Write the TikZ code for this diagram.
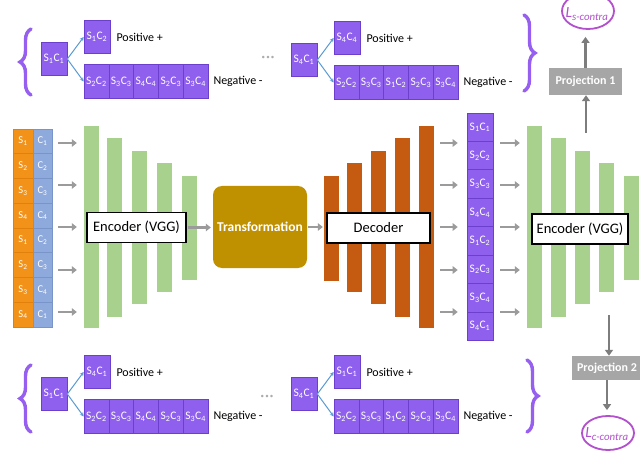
\documentclass[tikz,border=0pt]{standalone}
\usepackage{fontspec}
\setmainfont{Carlito}
\usetikzlibrary{arrows.meta,decorations.pathreplacing,shapes.geometric}

\definecolor{scfill}{RGB}{143,96,238}
\definecolor{scedge}{RGB}{108,64,205}
\definecolor{sorange}{RGB}{242,146,24}
\definecolor{sorangeedge}{RGB}{225,128,10}
\definecolor{cblue}{RGB}{142,169,219}
\definecolor{cblueedge}{RGB}{120,148,200}
\definecolor{encgreen}{RGB}{169,209,142}
\definecolor{decred}{RGB}{197,90,17}
\definecolor{transgold}{RGB}{191,144,0}
\definecolor{arrgray}{RGB}{155,155,155}
\definecolor{projarr}{RGB}{125,125,125}
\definecolor{projgray}{RGB}{166,166,166}
\definecolor{bracepurple}{RGB}{150,95,240}
\definecolor{losspurple}{RGB}{178,80,205}
\definecolor{linkblue}{RGB}{91,155,213}

% S_iC_j label
\newcommand\sct[2]{S\textsubscript{#1}C\textsubscript{#2}}

% anchor sample with one positive and five negatives
\newcommand\contrastgroup[6]{%
  \node[scbox] (#1-a) at (#2,#3) {#4};
  \node[scbox] (#1-p) at ([shift={(43,-22)}]#1-a.center) {#5};
  \foreach \lbl [count=\k] in {#6} {
    \node[scbox, minimum width=24.8pt] (#1-n\k) at ([shift={({42.4+24.8*(\k-1)},22.5)}]#1-a.center) {\lbl};
  }
  \node[plabel, anchor=west] (#1-pt) at ([xshift=6pt]#1-p.east) {Positive +};
  \node[plabel, anchor=west] (#1-nt) at ([xshift=5pt]#1-n5.east) {Negative -};
  \draw[link] (#1-a.east) -- (#1-p.west);
  \draw[link] (#1-a.east) -- (#1-n1.west);
}

\begin{document}
\begin{tikzpicture}[x=1pt,y=-1pt,
  scbox/.style={draw=scedge, fill=scfill, line width=0.6pt, minimum width=26pt,
    minimum height=33.5pt, inner sep=0pt, text=white, font=\fontsize{11.5}{12}\selectfont},
  sbox/.style={draw=sorangeedge, fill=sorange, line width=0.5pt, minimum width=19.5pt,
    minimum height=24.75pt, inner sep=0pt, text=white, font=\fontsize{10.5}{11}\selectfont},
  cbox/.style={sbox, draw=cblueedge, fill=cblue},
  pbox/.style={scbox, minimum height=28.4pt},
  plabel/.style={inner sep=0pt, font=\fontsize{12}{12}\selectfont},
  link/.style={draw=linkblue, line width=1pt, -{Stealth[length=4pt,width=4pt]}},
  garrow/.style={draw=arrgray, line width=2.8pt, -{Triangle[length=5pt,width=7.5pt]}},
  parrow/.style={draw=projarr, line width=2.4pt, -{Triangle[length=6pt,width=8pt]}},
  gbar/.style={fill=encgreen, inner sep=0pt, minimum width=15pt},
  dbar/.style={fill=decred, inner sep=0pt, minimum width=15pt},
  netlabel/.style={draw=black, line width=1.8pt, fill=white, inner sep=0pt,
    minimum height=30pt, font=\fontsize{14.5}{15}\selectfont},
  transbox/.style={fill=transgold, rounded corners=9pt, minimum width=94pt,
    minimum height=82pt, inner sep=0pt, text=white, font=\bfseries\fontsize{13.5}{14}\selectfont},
  projbox/.style={fill=projgray, inner sep=0pt, text=white, font=\bfseries\fontsize{12}{12}\selectfont},
  lossell/.style={ellipse, draw=losspurple, line width=1.8pt, fill=white, inner sep=0pt},
  losstext/.style={inner sep=0pt, text=losspurple, font=\itshape\fontsize{15.5}{16}\selectfont},
  bracestyle/.style={draw=bracepurple, line width=3.4pt, line cap=round,
    decorate, decoration={brace, amplitude=11pt, aspect=0.5}},
  dots/.style={inner sep=0pt, text=gray!65, font=\fontsize{7}{7}\selectfont}
]
\clip (0,0) rectangle (640,457);
\fill[white] (0,0) rectangle (640,457);

% ---------- contrastive sample groups ----------
\contrastgroup{tl}{54}{59}{\sct11}{\sct12}{\sct22,\sct33,\sct44,\sct23,\sct34}
\contrastgroup{tr}{304}{60}{\sct41}{\sct44}{\sct22,\sct33,\sct12,\sct23,\sct34}
\contrastgroup{bl}{54}{394}{\sct11}{\sct41}{\sct22,\sct33,\sct44,\sct23,\sct34}
\contrastgroup{br}{304}{394}{\sct41}{\sct11}{\sct22,\sct33,\sct12,\sct23,\sct34}

\node[dots] (tdots) at (268,58) {\textbullet\,\textbullet\,\textbullet};
\node[dots] (bdots) at (267,397) {\textbullet\,\textbullet\,\textbullet};

% braces
\draw[bracestyle] (31,95) -- (31,29);
\draw[bracestyle] (524,15) -- (524,91);
\draw[bracestyle] (31,432) -- (31,365);
\draw[bracestyle] (527,360) -- (527,432);

% ---------- input style/content column ----------
\foreach \s/\c [count=\i] in {1/1,2/2,3/3,4/4,1/2,2/3,3/4,4/1} {
  \node[sbox] (s\i) at (23,{129+24.75*(\i-0.5)}) {S\textsubscript{\s}};
  \node[cbox] (c\i) at (42.5,{129+24.75*(\i-0.5)}) {C\textsubscript{\c}};
}

% ---------- encoder, decoder and second encoder bars ----------
\foreach \xl/\top/\bot [count=\i] in {84/126/328,107/138/317,132/151/304,157/163/292,182/176/280} {
  \node[gbar, minimum height={\bot-\top}] (e\i) at ({\xl+7.5},{(\top+\bot)/2}) {};
}
\foreach \xl/\top/\bot [count=\i] in {324/176/281,347/163/292,371/151/304,395/138/317,419/126/328} {
  \node[dbar, minimum height={\bot-\top}] (d\i) at ({\xl+7.5},{(\top+\bot)/2}) {};
}
\foreach \xl/\top/\bot [count=\i] in {527/126/328,551/138/317,575/151/304,599/163/292,624/176/280} {
  \node[gbar, minimum height={\bot-\top}] (f\i) at ({\xl+7.5},{(\top+\bot)/2}) {};
}

% ---------- reconstructed column ----------
\foreach \s/\c [count=\i] in {1/1,2/2,3/3,4/4,1/2,2/3,3/4,4/1} {
  \node[pbox] (p\i) at (480,{113+28.4*(\i-0.5)}) {\sct{\s}{\c}};
}

% ---------- network labels ----------
\node[netlabel, minimum width=99pt] (enc1) at (136.5,227.5) {Encoder (VGG)};
\node[transbox] (trans) at (260,227) {Transformation};
\node[netlabel, minimum width=103pt] (dec) at (378.5,228) {Decoder};
\node[netlabel, minimum width=96pt] (enc2) at (580,229) {Encoder (VGG)};

\draw[garrow, shorten <=1pt, shorten >=2pt] (enc1.east) -- (enc1.east -| trans.west);
\draw[garrow, shorten <=1pt, shorten >=1pt] (trans.east) -- (trans.east -| d1.west);

% column arrows
\foreach \y [count=\i] in {143,185,227,270,312} {
  \coordinate (ia\i) at (58,\y);
  \draw[garrow, shorten >=7pt] (ia\i) -- (ia\i -| e1.west);
  \coordinate (da\i) at (440,\y);
  \draw[garrow, shorten >=9pt] (da\i) -- (da\i -| p1.west);
  \coordinate (pa\i) at (500,\y);
  \draw[garrow, shorten >=7pt] (pa\i) -- (pa\i -| f1.west);
}

% ---------- projection heads and losses ----------
\node[projbox, minimum width=73pt, minimum height=27pt] (proj1) at (585.5,81.5) {Projection 1};
\node[projbox, minimum width=70pt, minimum height=24pt] (proj2) at (607,368) {Projection 2};

\node[lossell, minimum width=52pt, minimum height=36pt] (ell1) at (588,11) {};
\node[losstext] (ell1t) at (587,14) {L\textsubscript{s-contra}};
\node[lossell, minimum width=52pt, minimum height=34pt] (ell2) at (608,433) {};
\node[losstext] (ell2t) at (607,434) {L\textsubscript{c-contra}};

\coordinate (up1) at (586,133);
\draw[parrow] (up1) -- (up1 |- proj1.south);
\draw[parrow, shorten >=7pt] (proj1.north) -- (proj1.north |- ell1.south);
\coordinate (dn1) at (609,315);
\draw[parrow] (dn1) -- (dn1 |- proj2.north);
\draw[parrow, shorten >=5pt] (proj2.south) -- (proj2.south |- ell2.north);
\end{tikzpicture}
\end{document}
